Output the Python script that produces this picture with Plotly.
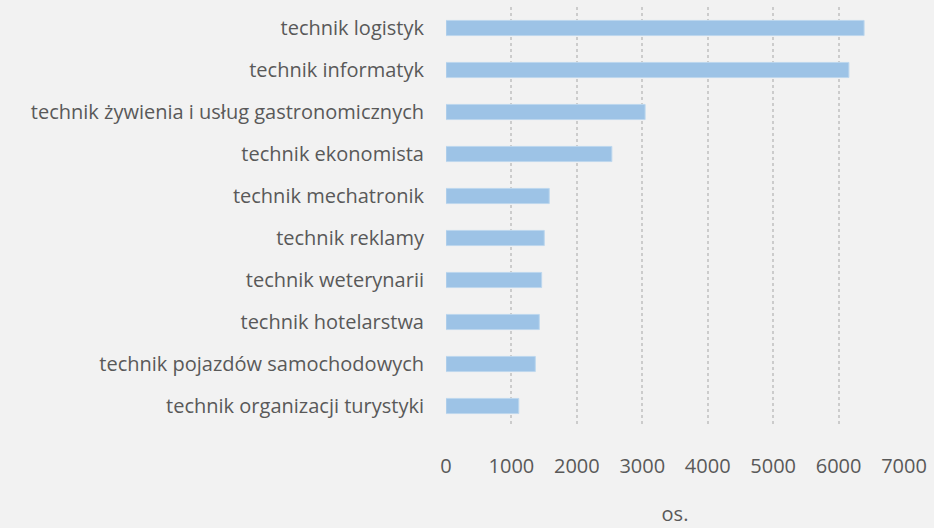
import plotly.graph_objects as go

categories = [
    "technik logistyk",
    "technik informatyk",
    "technik żywienia i usług gastronomicznych",
    "technik ekonomista",
    "technik mechatronik",
    "technik reklamy",
    "technik weterynarii",
    "technik hotelarstwa",
    "technik pojazdów samochodowych",
    "technik organizacji turystyki",
]
values = [6390, 6158, 3043, 2535, 1578, 1502, 1462, 1426, 1365, 1112]
x_ticks = [0, 1000, 2000, 3000, 4000, 5000, 6000, 7000]
x_title = "os."

fig = go.Figure(
    go.Bar(
        y=categories,
        x=values,
        orientation="h",
        marker=dict(color="#9dc3e6", line=dict(color="#bdd7ee", width=1)),
        hoverinfo="x+y",
    )
)

fig.update_layout(
    width=934,
    height=528,
    paper_bgcolor="#f2f2f2",
    plot_bgcolor="#f2f2f2",
    margin=dict(l=446, r=28, t=7, b=94),
    bargap=0.64,
    showlegend=False,
    font=dict(family="Open Sans, Lato, sans-serif", size=20, color="#595959"),
)
fig.update_xaxes(
    range=[0, 7000],
    tickvals=x_ticks,
    ticktext=[str(v) for v in x_ticks],
    showgrid=True,
    gridcolor="#cccccc",
    griddash="dot",
    gridwidth=1.5,
    zeroline=False,
    showline=False,
    ticklabelstandoff=25,
    title=dict(text=x_title, standoff=28, font=dict(size=20, color="#595959")),
)
fig.update_yaxes(
    categoryorder="array",
    categoryarray=categories[::-1],
    autorange=True,
    showgrid=False,
    zeroline=False,
    showline=False,
    ticklabelstandoff=21,
)

fig.write_html(
    "out.html",
    config={"displayModeBar": False},
    post_script="document.body.style.margin='0';document.body.style.background='#f2f2f2';",
)
